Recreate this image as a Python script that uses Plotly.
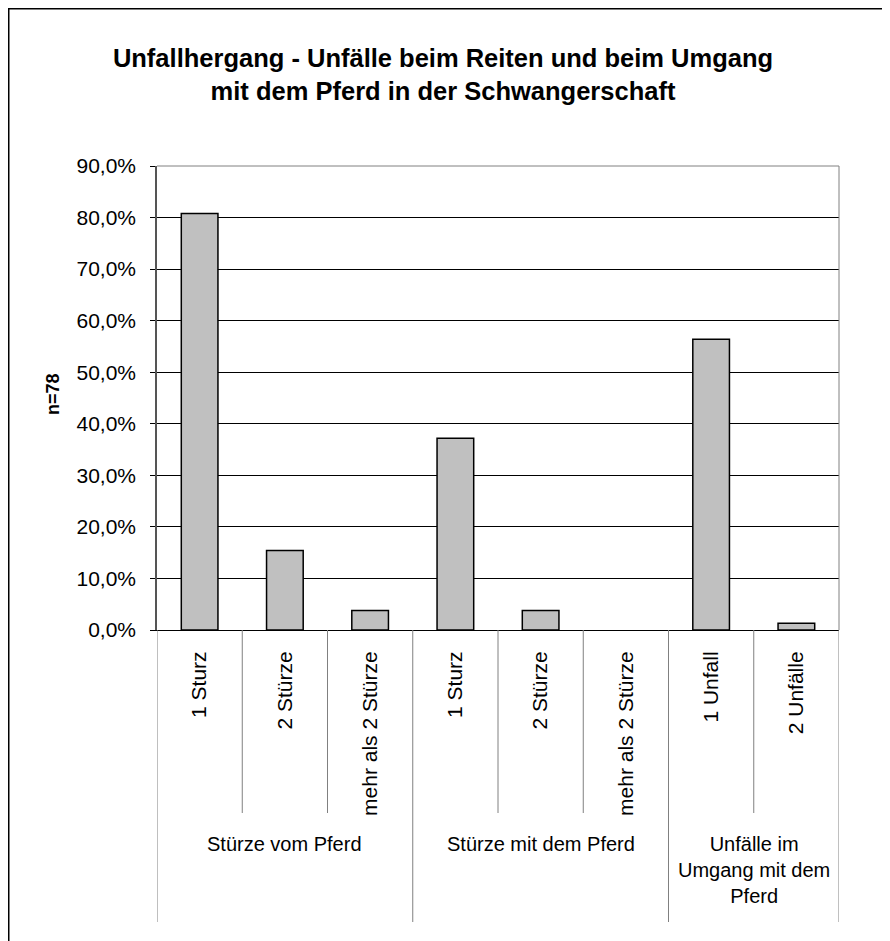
"""Unfallhergang bar chart (Excel-like look) rebuilt with Plotly."""

import plotly.graph_objects as go

# ── Data ──
GROUPS = [
    'Stürze vom Pferd', 'Stürze vom Pferd', 'Stürze vom Pferd',
    'Stürze mit dem Pferd', 'Stürze mit dem Pferd', 'Stürze mit dem Pferd',
    'Unfälle im<br>Umgang mit dem<br>Pferd', 'Unfälle im<br>Umgang mit dem<br>Pferd',
]
SUB_LABELS = ['1 Sturz', '2 Stürze', 'mehr als 2 Stürze',
              '1 Sturz', '2 Stürze', 'mehr als 2 Stürze',
              '1 Unfall', '2 Unfälle']
VALUES = [0.808, 0.154, 0.038, 0.372, 0.038, 0.0, 0.564, 0.013]
Y_TICKS = [0.0, 0.1, 0.2, 0.3, 0.4, 0.5, 0.6, 0.7, 0.8, 0.9]

TITLE = 'Unfallhergang - Unfälle beim Reiten und beim Umgang<br>mit dem Pferd in der Schwangerschaft'
Y_TITLE = 'n=78'

# ── Style ──
FONT = 'Arial, Liberation Sans, sans-serif'
BAR_FILL = '#C0C0C0'
DIVIDER = '#808080'

# page body has an 8px margin, so the figure is drawn 8px in from the window edge
OFF = 8
W, H = 890 - OFF, 941 - OFF
PLOT_L, PLOT_R, PLOT_T, PLOT_B = 157 - OFF, 839 - OFF, 166 - OFF, 630 - OFF


def px_x(px):
    """Window pixel x -> paper x."""
    return (px - OFF - PLOT_L) / (PLOT_R - PLOT_L)


def px_y(py):
    """Window pixel y -> paper y."""
    return (PLOT_B - (py - OFF)) / (PLOT_B - PLOT_T)


xs = list(range(len(VALUES)))
# empty bars get no outline (Excel draws nothing for 0)
outline_w = [0 if v == 0 else 1.5 for v in VALUES]

fig = go.Figure(go.Bar(
    x=xs,
    y=VALUES,
    width=0.43,
    marker=dict(color=BAR_FILL, line=dict(color='black', width=outline_w)),
    hovertemplate='%{y:.1%}<extra></extra>',
))

shapes = []
# category dividers below the axis
for i in range(len(xs) + 1):
    b = i - 0.5
    if i == 0 or i == len(xs) or GROUPS[i - 1] != GROUPS[i]:
        y_end = px_y(922)
    else:
        y_end = px_y(813)
    shapes.append(dict(type='line', xref='x', yref='paper', x0=b, x1=b,
                       y0=0, y1=y_end, line=dict(color=DIVIDER, width=1)))

# plot area border (top + right)
shapes.append(dict(type='line', xref='paper', yref='paper', x0=0, x1=1, y0=1, y1=1,
                   line=dict(color=DIVIDER, width=1)))
shapes.append(dict(type='line', xref='paper', yref='paper', x0=1, x1=1, y0=0, y1=1,
                   line=dict(color=DIVIDER, width=1)))

# chart frame (left + top visible)
shapes.append(dict(type='line', xref='paper', yref='paper',
                   x0=px_x(8.75), x1=px_x(8.75), y0=px_y(8), y1=px_y(960),
                   line=dict(color='black', width=1.5)))
shapes.append(dict(type='line', xref='paper', yref='paper',
                   x0=px_x(8), x1=px_x(900), y0=px_y(8.75), y1=px_y(8.75),
                   line=dict(color='black', width=1.5)))

annotations = []
# group labels
seen = []
for g in GROUPS:
    if g not in seen:
        seen.append(g)
for g in seen:
    idx = [i for i, v in enumerate(GROUPS) if v == g]
    annotations.append(dict(
        text=g, xref='x', yref='paper',
        x=(idx[0] + idx[-1]) / 2, y=px_y(831),
        xanchor='center', yanchor='top', showarrow=False,
        font=dict(family=FONT, size=20, color='black'),
    ))

# y axis title
annotations.append(dict(
    text=f'<b>{Y_TITLE}</b>', xref='paper', yref='paper',
    x=px_x(53), y=px_y(394), textangle=-90,
    xanchor='center', yanchor='middle', showarrow=False,
    font=dict(family=FONT, size=18, color='black'),
))

fig.update_layout(
    width=W, height=H,
    paper_bgcolor='white',
    plot_bgcolor='white',
    separators=',.',
    showlegend=False,
    margin=dict(l=PLOT_L, r=W - PLOT_R, t=PLOT_T, b=H - PLOT_B, pad=0),
    title=dict(
        text=f'<b>{TITLE}</b>',
        xref='container', yref='container',
        x=(443 - OFF) / W, y=1 - (67 - OFF) / H, xanchor='center', yanchor='middle',
        font=dict(family=FONT, size=25.5, color='black'),
    ),
    xaxis=dict(
        range=[-0.5, len(xs) - 0.5],
        tickvals=xs,
        ticktext=SUB_LABELS,
        tickangle=-90,
        ticks='',
        ticklabelstandoff=12,
        tickfont=dict(family=FONT, size=21, color='black'),
        showgrid=False,
        zeroline=False,
        showline=True, linecolor='black', linewidth=1,
    ),
    yaxis=dict(
        range=[0, 0.9],
        tickvals=Y_TICKS,
        tickformat='.1%',
        ticks='outside', ticklen=5, tickcolor='black',
        ticklabelstandoff=10,
        tickfont=dict(family=FONT, size=21, color='black'),
        showgrid=True, gridcolor='black', gridwidth=1,
        zeroline=False,
        showline=True, linecolor='#555555', linewidth=1.5,
    ),
    shapes=shapes,
    annotations=annotations,
)

fig.write_html('out.html')
